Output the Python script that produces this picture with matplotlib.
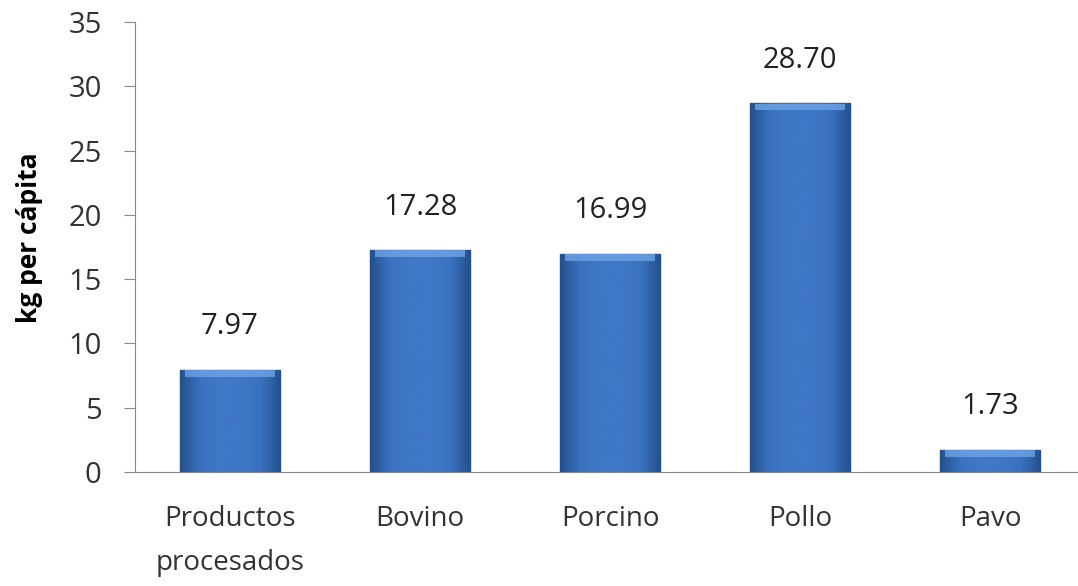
import numpy as np
import matplotlib.pyplot as plt
from matplotlib.colors import LinearSegmentedColormap

categories = ["Productos\nprocesados", "Bovino", "Porcino", "Pollo", "Pavo"]
values = [7.97, 17.28, 16.99, 28.70, 1.73]
value_labels = ["7.97", "17.28", "16.99", "28.70", "1.73"]

plt.rcParams['font.family'] = ['Open Sans', 'DejaVu Sans']

fig = plt.figure(figsize=(10.78, 5.86), dpi=100)
ax = fig.add_axes([135 / 1078, 1 - 472 / 586, 950 / 1078, 450 / 586])

x = np.arange(len(categories))
bars = ax.bar(x, values, width=0.53, color="#3c73bf", edgecolor="#2a5088", linewidth=1.0, zorder=2)

# soft horizontal gradient inside each bar (darker edges)
cmap = LinearSegmentedColormap.from_list(
    "bar", ["#24508c", "#3a72bf", "#3f78c6", "#3f78c6", "#3a72bf", "#24508c"])
grad = np.linspace(0, 1, 256).reshape(1, -1)
for b in bars:
    x0, w, h = b.get_x(), b.get_width(), b.get_height()
    im = ax.imshow(grad, extent=[x0, x0 + w, 0, h], aspect="auto", cmap=cmap, zorder=3)
    im.set_clip_path(b)
    # light bevel on top
    ax.fill_between([x0 + w * 0.05, x0 + w * 0.95], h - 0.55, h - 0.05,
                    color="#6ea3e6", alpha=0.8, zorder=4, lw=0)

for xi, v, lab in zip(x, values, value_labels):
    ax.text(xi, v + 2.2, lab, ha="center", va="bottom", fontsize=21, color="#222222")

ax.set_xlim(-0.5, 4.5)
ax.set_ylim(0, 35)
ax.set_yticks(range(0, 36, 5))
ax.set_xticks(x)
ax.set_xticklabels(categories, fontsize=20, color="#333333", linespacing=1.75)
ax.tick_params(axis="x", length=0, pad=24)
ax.tick_params(axis="y", labelsize=21, labelcolor="#333333", length=8, color="#888888", pad=16)
for s in ["top", "right"]:
    ax.spines[s].set_visible(False)
ax.spines["left"].set_color("#888888")
ax.spines["bottom"].set_color("#888888")
fig.text(30 / 1078, 1 - 238 / 586, "kg per cápita", rotation=90, ha="center", va="center",
         fontsize=19, fontweight="bold")

fig.savefig("out.png", dpi=100)
